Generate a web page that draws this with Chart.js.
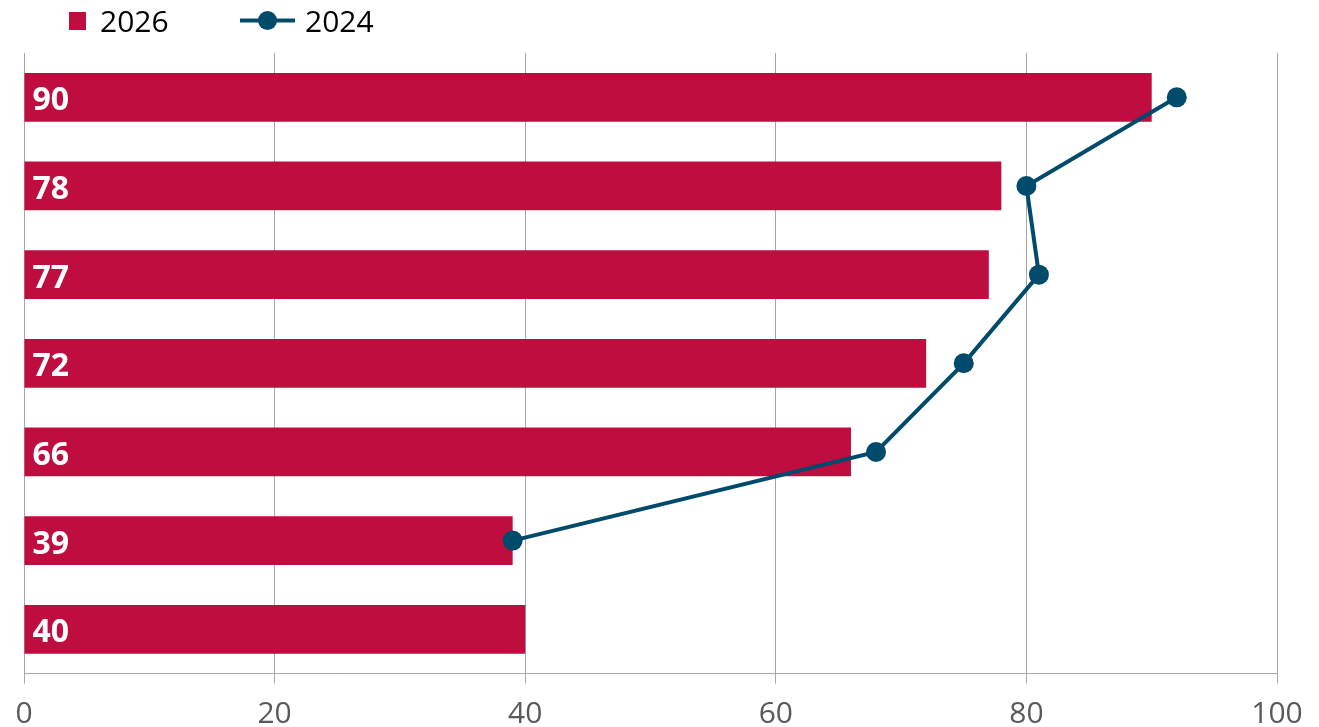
<!DOCTYPE html>
<html>
<head>
<meta charset="utf-8">
<title>2026 vs 2024</title>
<script src="https://cdn.jsdelivr.net/npm/chart.js@4.4.1/dist/chart.umd.min.js"></script>
<style>
  html, body { margin: 0; padding: 0; background: #fff; }
  #wrap { position: relative; width: 1319px; height: 727px; }
</style>
</head>
<body>
<div id="wrap"><canvas id="score-chart"></canvas></div>
<script>
// Rows (labels are not shown on the axis)
const rows = ['1', '2', '3', '4', '5', '6', '7'];
const scores2026 = [90, 78, 77, 72, 66, 39, 40];
const scores2024 = [92, 80, 81, 75, 68, 39, null];
const axisTicks = [0, 20, 40, 60, 80, 100];

const RED = '#C00D3F';
const BLUE = '#004A6B';
const GRID = '#A6A6A6';
const TICK_TEXT = '#595959';
const FONT = '"Open Sans", "Noto Sans", sans-serif';

Chart.defaults.font.family = FONT;

// White value labels at the start of each bar
const barValueLabels = {
  id: 'barValueLabels',
  afterDatasetDraw(chart, args) {
    const ds = chart.data.datasets[args.index];
    if (ds.type !== 'bar') return;
    const ctx = chart.ctx;
    ctx.save();
    ctx.font = 'bold 32px ' + FONT;
    ctx.fillStyle = '#fff';
    ctx.textAlign = 'left';
    ctx.textBaseline = 'alphabetic';
    args.meta.data.forEach((bar, i) => {
      ctx.fillText(String(ds.data[i]), bar.base + 8, bar.y + 13);
    });
    ctx.restore();
  }
};

// Legend row across the top
const topLegend = {
  id: 'topLegend',
  afterDraw(chart) {
    const [bars, line] = chart.data.datasets;
    const ctx = chart.ctx;
    ctx.save();
    ctx.font = '30px ' + FONT;
    ctx.textBaseline = 'alphabetic';

    ctx.fillStyle = bars.backgroundColor;
    ctx.fillRect(69, 12, 17, 18);
    ctx.fillStyle = '#000';
    ctx.fillText(bars.label, 100, 32);

    ctx.strokeStyle = line.borderColor;
    ctx.lineWidth = 4;
    ctx.beginPath();
    ctx.moveTo(240, 20.5);
    ctx.lineTo(295, 20.5);
    ctx.stroke();
    ctx.fillStyle = line.pointBackgroundColor;
    ctx.beginPath();
    ctx.arc(267.5, 20.5, 9.5, 0, Math.PI * 2);
    ctx.fill();
    ctx.fillStyle = '#000';
    ctx.fillText(line.label, 305, 32);
    ctx.restore();
  }
};

const ctx = document.getElementById('score-chart').getContext('2d');
window.scoreChart = new Chart(ctx, {
  type: 'bar',
  data: {
    labels: rows,
    datasets: [
      {
        type: 'bar',
        label: '2026',
        data: scores2026,
        backgroundColor: RED,
        borderWidth: 0,
        barPercentage: 0.55,
        categoryPercentage: 1,
        order: 2
      },
      {
        type: 'line',
        label: '2024',
        data: scores2024,
        borderColor: BLUE,
        borderWidth: 4,
        pointRadius: 10,
        pointBackgroundColor: BLUE,
        pointBorderWidth: 0,
        tension: 0,
        order: 1
      }
    ]
  },
  options: {
    indexAxis: 'y',
    responsive: true,
    maintainAspectRatio: false,
    animation: false,
    layout: {
      // tall tick line box pushes the labels down; negative bottom keeps the plot low
      padding: { top: 53, left: 24, right: 42, bottom: -17.5 }
    },
    plugins: {
      legend: { display: false },
      tooltip: { enabled: false }
    },
    scales: {
      x: {
        min: 0,
        max: 100,
        afterBuildTicks: scale => {
          scale.ticks = axisTicks.map(v => ({ value: v }));
        },
        grid: { color: GRID, lineWidth: 1, tickLength: 10 },
        border: { display: true, color: GRID, width: 1 },
        ticks: {
          color: TICK_TEXT,
          font: { size: 30, lineHeight: 2.03 },
          padding: 0,
          maxRotation: 0,
          autoSkip: false
        }
      },
      y: {
        display: false,
        offset: true,
        grid: { display: false }
      }
    }
  },
  plugins: [barValueLabels, topLegend]
});
</script>
</body>
</html>
